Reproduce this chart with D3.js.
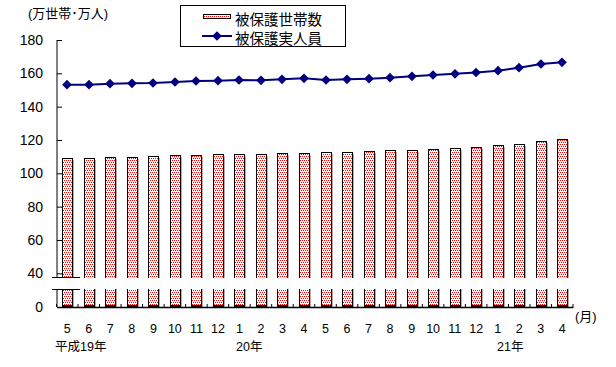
<!DOCTYPE html>
<html>
<head>
<meta charset="utf-8">
<script src="https://cdn.jsdelivr.net/npm/d3@7"></script>
<style>
  body { margin: 0; background: #fff; }
  text { font-family: "Liberation Sans", "Noto Sans CJK JP", sans-serif; fill: #000; }
</style>
</head>
<body>
<svg id="chart"></svg>
<script>
/*set constant */
const width = 616, height = 367;
const xLeft = 56.5, xRight = 573;
const yTop = 40, y40 = 273.3, breakTop = 277, breakBottom = 289, yZero = 307;

/*data: months from 平成19年5月 to 21年4月 */
const months = ["5", "6", "7", "8", "9", "10", "11", "12",
                "1", "2", "3", "4", "5", "6", "7", "8", "9", "10", "11", "12",
                "1", "2", "3", "4"];
const households = [109.2, 109.2, 110.0, 110.0, 110.6, 111.0, 111.2, 111.6,
                    111.6, 111.6, 112.2, 112.2, 113.0, 113.0, 113.6, 114.2,
                    114.2, 114.8, 115.4, 116.0, 117.2, 117.8, 119.6, 120.6];
const persons = [153.2, 153.2, 153.8, 154.0, 154.2, 154.8, 155.4, 155.6,
                 156.0, 155.8, 156.4, 157.0, 156.0, 156.4, 156.8, 157.4,
                 158.2, 159.0, 159.7, 160.5, 161.6, 163.4, 165.6, 166.6];
const yTicksUpper = [40, 60, 80, 100, 120, 140, 160, 180];
const yearLabels = [{index: 0, text: "平成19年", dx: -12}, {index: 8, text: "20年", dx: -3}, {index: 20, text: "21年", dx: -1}];
const seriesNames = ["被保護世帯数", "被保護実人員"];

const svg = d3.select("#chart").attr("width", width).attr("height", height);

/*pattern for bars: staggered red dots */
const pat = svg.append("defs").append("pattern").attr("id", "dots")
  .attr("patternUnits", "userSpaceOnUse").attr("width", 4).attr("height", 4)
  .attr("shape-rendering", "crispEdges");
pat.append("rect").attr("width", 4).attr("height", 4).attr("fill", "#ffffff");
[[0, 0], [2, 0], [1, 2], [3, 2]].forEach(([px, py]) => {
  pat.append("rect").attr("x", px).attr("y", py).attr("width", 1).attr("height", 1).attr("fill", "#ff0000");
});

/*scales */
const idx = months.map((d, i) => i);
const xScale = d3.scaleBand().domain(idx).range([xLeft, xRight]).padding(0);
const bw = xScale.bandwidth(), barW = 10;
const cx = i => Math.round(xScale(i) + bw / 2);
const yUpper = d3.scaleLinear().domain([40, 180]).range([y40, yTop]);
const yLower = d3.scaleLinear().domain([0, 10]).range([yZero, breakBottom]);

/*bars drawn full height, the break is covered afterwards */
const bars = svg.append("g");
bars.selectAll("rect").data(households).enter().append("rect")
  .attr("x", (d, i) => cx(i) - barW / 2 + 0.5).attr("width", barW)
  .attr("y", d => Math.round(yUpper(d)) + 0.5).attr("height", d => yLower(0) - Math.round(yUpper(d)) - 1)
  .attr("fill", "url(#dots)").attr("stroke", "#000").attr("stroke-width", 1);
bars.selectAll("line.shade").data(households).enter().append("line").attr("class", "shade")
  .attr("x1", (d, i) => cx(i) + barW / 2 + 1.5).attr("x2", (d, i) => cx(i) + barW / 2 + 1.5)
  .attr("y1", d => Math.round(yUpper(d)) + 2).attr("y2", yZero)
  .attr("stroke", "#b0b0b0").attr("stroke-width", 1);
bars.selectAll("line.bot").data(households).enter().append("line").attr("class", "bot")
  .attr("x1", (d, i) => cx(i) - barW / 2).attr("x2", (d, i) => cx(i) + barW / 2 + 1)
  .attr("y1", yZero - 1).attr("y2", yZero - 1).attr("stroke", "#000").attr("stroke-width", 2);

/*white gap of the axis break */
svg.append("rect").attr("x", xLeft - 2).attr("y", breakTop + 1).attr("width", xRight - xLeft + 4)
  .attr("height", breakBottom - breakTop - 1).attr("fill", "#fff");

/*y axis upper */
const yAxisUp = svg.append("g").attr("transform", `translate(${xLeft + 0.5},0)`)
  .call(d3.axisLeft(yUpper).tickValues(yTicksUpper).tickSizeInner(-5).tickSizeOuter(0).tickPadding(14));
yAxisUp.select(".domain").attr("d", `M0,${yTop}V${breakTop}`);
/*y axis lower */
const yAxisLow = svg.append("g").attr("transform", `translate(${xLeft + 0.5},0)`)
  .call(d3.axisLeft(yLower).tickValues([0]).tickSizeInner(0).tickSizeOuter(0).tickPadding(14));
yAxisLow.select(".domain").attr("d", `M0,${breakBottom}V${yZero}`);
svg.selectAll(".tick text").attr("font-size", 14).attr("font-family", null);
svg.selectAll(".tick line").attr("stroke", "#000");

/*break marks */
svg.append("g").selectAll("line").data([breakTop, breakBottom]).enter().append("line")
  .attr("x1", 52).attr("x2", 80).attr("y1", d => d + 0.5).attr("y2", d => d + 0.5)
  .attr("stroke", "#000").attr("stroke-width", 1);

/*x axis */
const xAxis = svg.append("g").attr("transform", `translate(0,${yZero})`)
  .call(d3.axisBottom(xScale).tickSize(0).tickPadding(17).tickFormat(i => months[i]));
xAxis.select(".domain").attr("stroke", "#000").attr("stroke-width", 1.5);
xAxis.selectAll("text").attr("font-size", 12.5).attr("font-family", null);
xAxis.selectAll("line.sep").data(idx.concat([idx.length])).enter().append("line").attr("class", "sep")
  .attr("x1", i => i < idx.length ? xScale(i) : xRight).attr("x2", i => i < idx.length ? xScale(i) : xRight)
  .attr("y1", 0).attr("y2", -3).attr("stroke", "#000");

/*year labels */
svg.append("g").selectAll("text").data(yearLabels).enter().append("text")
  .attr("x", d => cx(d.index) + d.dx).attr("y", 351).attr("font-size", 12.5).text(d => d.text);

/*line series */
const line = d3.line().x((d, i) => cx(i)).y(d => yUpper(d));
svg.append("path").datum(persons).attr("d", line)
  .attr("fill", "none").attr("stroke", "#000080").attr("stroke-width", 2);
const diamond = d3.symbol().type(d3.symbolDiamond2).size(60);
svg.append("g").selectAll("path").data(persons).enter().append("path")
  .attr("d", diamond).attr("transform", (d, i) => `translate(${cx(i)},${yUpper(d)})`)
  .attr("fill", "#000080");

/*titles */
svg.append("text").attr("x", 28).attr("y", 18).attr("font-size", 13).text("(万世帯･万人)");
svg.append("text").attr("x", 575).attr("y", 321).attr("font-size", 13).text("(月)");

/*legend */
const legend = svg.append("g");
legend.append("rect").attr("x", 180.5).attr("y", 5.5).attr("width", 165).attr("height", 41)
  .attr("fill", "#fff").attr("stroke", "#000");
legend.append("rect").attr("x", 203.5).attr("y", 14.5).attr("width", 27).attr("height", 4)
  .attr("fill", "url(#dots)").attr("stroke", "#000");
legend.append("line").attr("x1", 202).attr("x2", 232).attr("y1", 36).attr("y2", 36)
  .attr("stroke", "#000080").attr("stroke-width", 2);
legend.append("path").attr("d", diamond).attr("transform", "translate(217,36)").attr("fill", "#000080");
legend.selectAll("text.lg").data(seriesNames).enter().append("text").attr("class", "lg")
  .attr("x", 235).attr("y", (d, i) => 20 + i * 19).attr("dominant-baseline", "central")
  .attr("font-size", 14.5).text(d => d);
</script>
</body>
</html>
